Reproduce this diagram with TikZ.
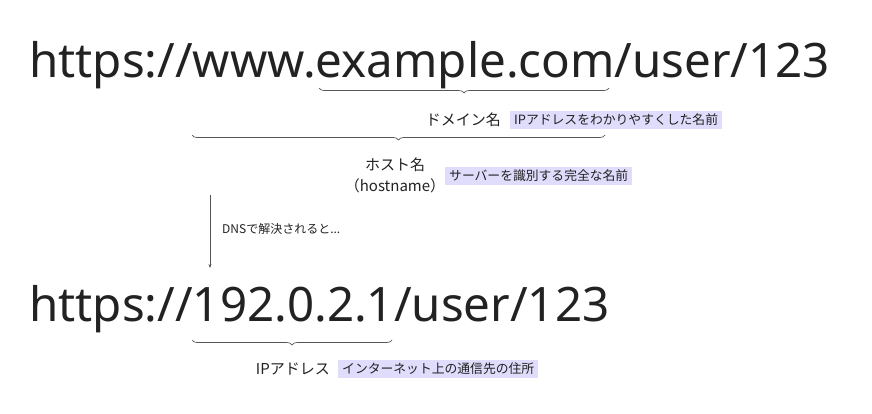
\documentclass[tikz,border=0pt]{standalone}
\usepackage{fontspec}
\setmainfont{Noto Sans}
\newfontfamily\jp{Noto Sans CJK JP}
\usetikzlibrary{decorations.pathreplacing,arrows.meta}
\definecolor{tagbg}{HTML}{E0DCFC}
\definecolor{ink}{HTML}{222222}
\definecolor{brc}{HTML}{555555}
\tikzset{
  url/.style={anchor=base west, inner sep=0pt, font=\fontsize{47.5}{56}\selectfont, text=ink},
  lbl/.style={inner sep=0pt, font=\jp\fontsize{15}{18}\selectfont, text=ink},
  tag/.style={inner xsep=4pt, inner ysep=3pt, fill=tagbg, font=\jp\fontsize{12.8}{15}\selectfont, text=ink},
  brc/.style={draw=brc, line width=0.7pt, decorate, decoration={brace, mirror, amplitude=5pt}},
  arr/.style={draw=brc, line width=0.6pt, -{Stealth[length=4pt,width=3pt]}},
  small/.style={inner sep=0pt, anchor=west, font=\jp\fontsize{12}{14}\selectfont, text=ink}
}
\begin{document}
\begin{tikzpicture}[x=1pt,y=-1pt]
\useasboundingbox (0,0) rectangle (872,413);
\node[url] (u1) at (29,77) {https://www.example.com/user/123};
\coordinate (d1) at (319,88); \coordinate (d2) at (609,88);
\draw[brc] (d1) -- (d2);
\node[lbl, anchor=east] (dom) at (501,120) {ドメイン名};
\node[tag, anchor=west] (domtag) at (510,120) {IPアドレスをわかりやすくした名前};
\coordinate (h1) at (192,135); \coordinate (h2) at (605,135);
\draw[brc] (h1) -- (h2);
\node[lbl, align=center] (host) at (395,175) {ホスト名\\[3pt]（hostname）};
\node[tag, anchor=west] (hosttag) at (445,176) {サーバーを識別する完全な名前};
\coordinate (a1) at (210,195); \coordinate (a2) at (210,268);
\draw[arr] (a1) -- (a2);
\node[small] (dns) at (222,229) {DNSで解決されると...};
\node[url] (u2) at (29,321) {https://192.0.2.1/user/123};
\coordinate (i1) at (192,340); \coordinate (i2) at (392,340);
\draw[brc] (i1) -- (i2);
\node[lbl, anchor=east] (ip) at (330,369) {IPアドレス};
\node[tag, anchor=west] (iptag) at (338,369) {インターネット上の通信先の住所};
\end{tikzpicture}
\end{document}
